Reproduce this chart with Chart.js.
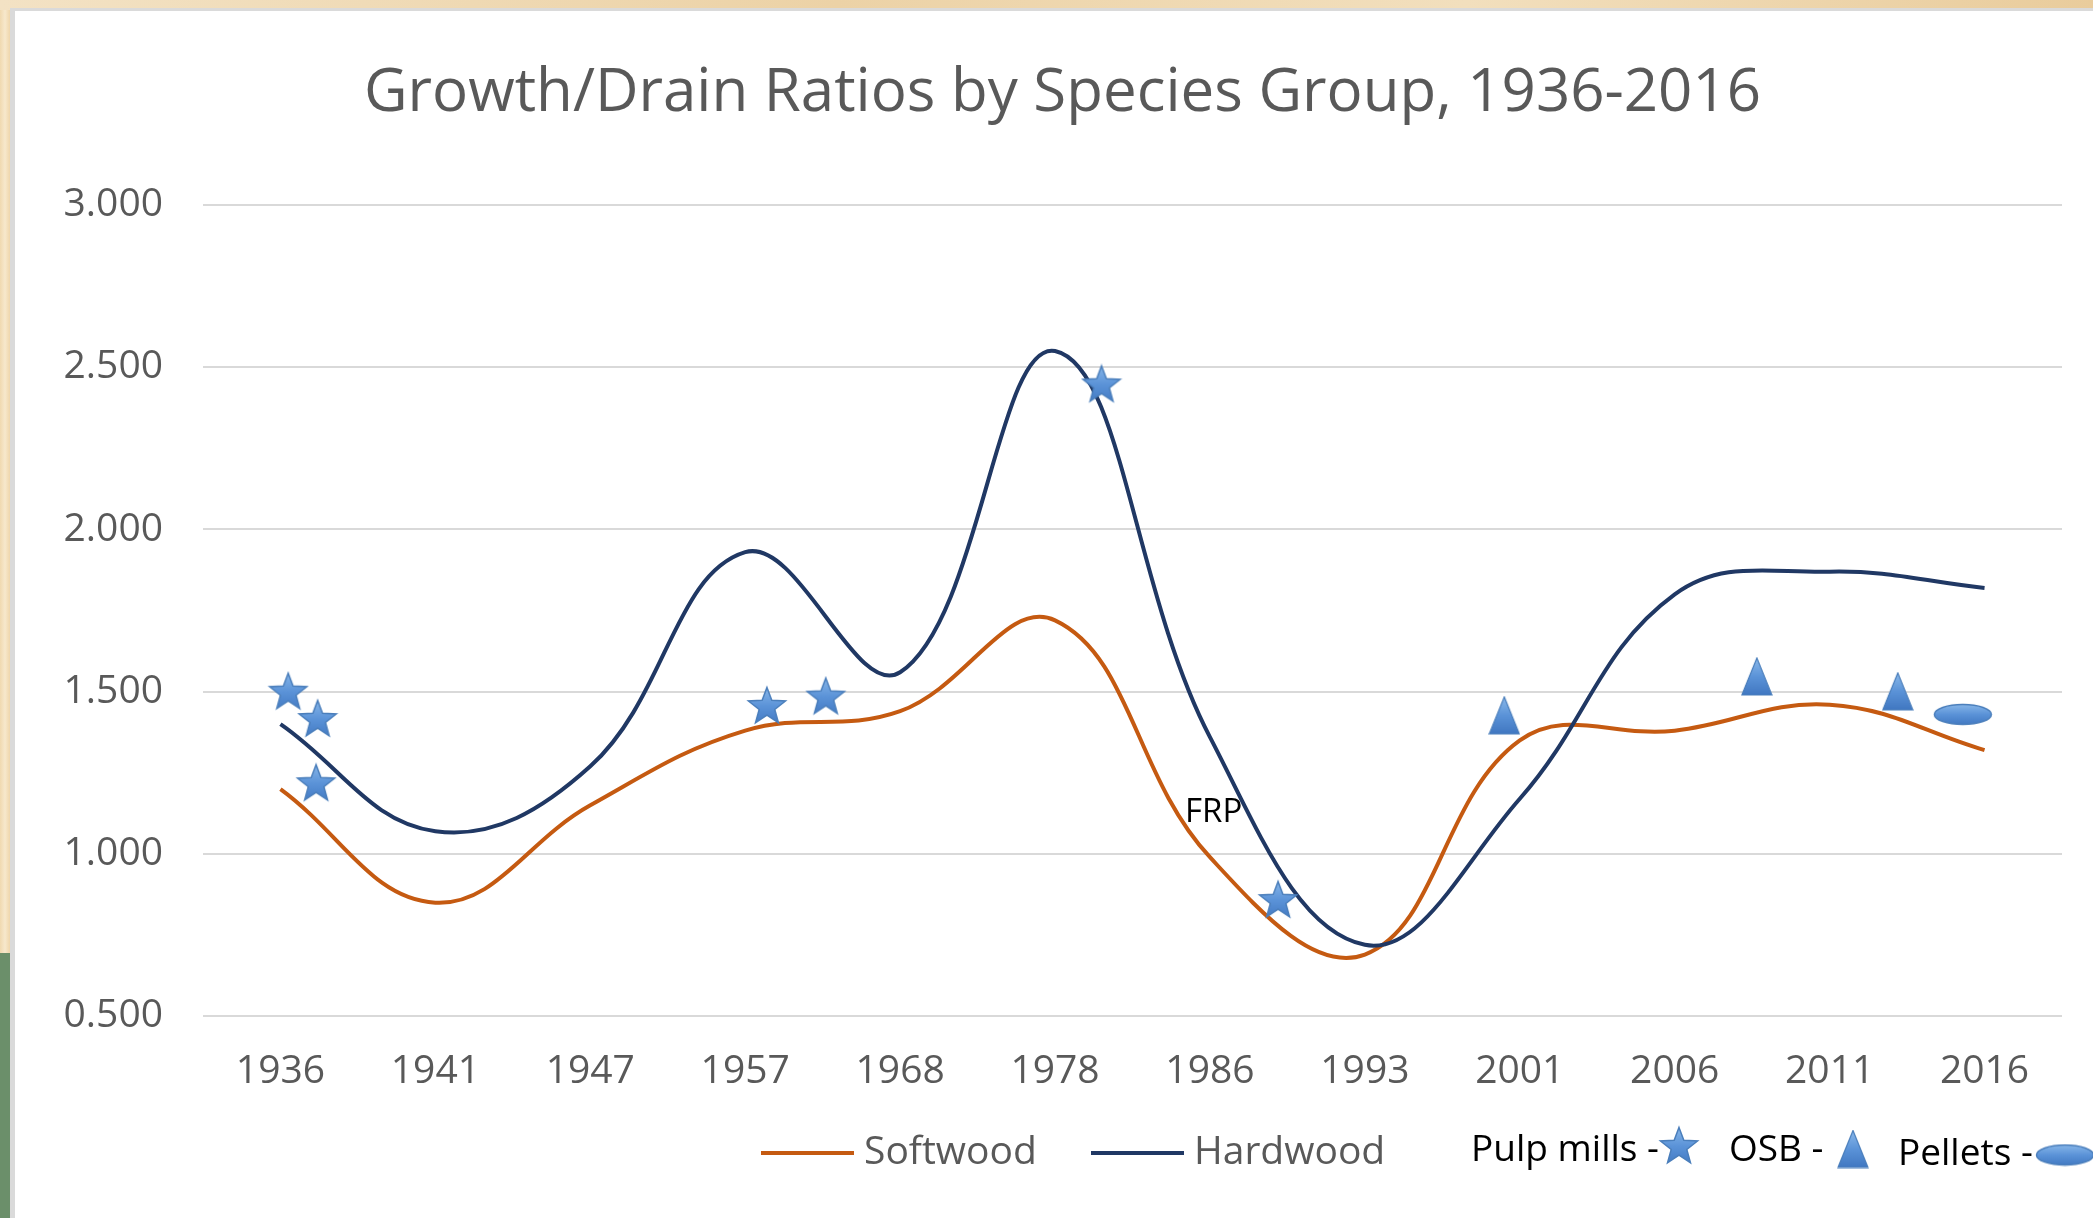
<!DOCTYPE html>
<html>
<head>
<meta charset="utf-8">
<script src="https://cdn.jsdelivr.net/npm/chart.js@4.4.1/dist/chart.umd.min.js"></script>
<style>
  html, body { margin: 0; padding: 0; }
  body {
    width: 2093px; height: 1218px; overflow: hidden; position: relative;
    background: linear-gradient(90deg, #f0d9b0 0px, #f7e8cc 5px, #efd6ab 10px);
  }
  #topstrip { position: absolute; left: 0; top: 0; width: 2093px; height: 10px;
    background: linear-gradient(90deg, #f3e2c4, #ecd2a6 40%, #f2dfbd 70%, #e9cc9c); }
  #green { position: absolute; left: 0; top: 953px; width: 10px; height: 265px; background: #6b8f6a; }
  #panel { position: absolute; left: 10px; top: 8px; right: 0; bottom: 0;
    background: #fff; border-left: 5px solid #dadada; border-top: 3px solid #dadada; }
  #myChart { position: absolute; left: 0; top: 0; }
</style>
</head>
<body>
<div id="topstrip"></div>
<div id="green"></div>
<div id="panel"></div>
<canvas id="myChart" width="2093" height="1218"></canvas>
<script>
// data
const years    = ['1936', '1941', '1947', '1957', '1968', '1978', '1986', '1993', '2001', '2006', '2011', '2016'];
const softwood = [1.20, 0.85, 1.15, 1.38, 1.44, 1.72, 0.99, 0.69, 1.35, 1.38, 1.46, 1.32];
const hardwood = [1.40, 1.07, 1.27, 1.93, 1.56, 2.55, 1.36, 0.72, 1.17, 1.80, 1.87, 1.82];

// marker positions: x is the fractional category index
const pulpMills = [
  { x: 0.05, y: 1.50 }, { x: 0.24, y: 1.416 }, { x: 0.23, y: 1.218 },
  { x: 3.14, y: 1.456 }, { x: 3.52, y: 1.485 }, { x: 5.30, y: 2.447 }, { x: 6.44, y: 0.858 }
];
const osbMills = [{ x: 7.90, y: 1.427 }, { x: 9.53, y: 1.547 }, { x: 10.44, y: 1.501 }];
const pellets  = [{ x: 10.86, y: 1.430 }];

const ORANGE = '#c55a11';
const NAVY   = '#203864';
const GREY   = '#595959';
const FONT   = "'Open Sans', sans-serif";

// --- marker images ---
function blueFill(c, h) {
  const g = c.createLinearGradient(0, 0, 0, h);
  g.addColorStop(0, '#8dbbeb');
  g.addColorStop(0.5, '#5b93d8');
  g.addColorStop(1, '#3f76c0');
  return g;
}

function makeStar(size) {
  const cv = document.createElement('canvas');
  cv.width = size; cv.height = size;
  const c = cv.getContext('2d');
  const cx = size / 2, cy = size / 2 + 1, R = size / 2 - 1.5, r = R * 0.42;
  c.beginPath();
  for (let i = 0; i < 10; i++) {
    const rad = i % 2 === 0 ? R : r;
    const a = -Math.PI / 2 + i * Math.PI / 5;
    const px = cx + rad * Math.cos(a), py = cy + rad * Math.sin(a);
    if (i === 0) c.moveTo(px, py); else c.lineTo(px, py);
  }
  c.closePath();
  c.fillStyle = blueFill(c, size);
  c.fill();
  c.strokeStyle = '#4a7ebb';
  c.lineWidth = 1.5;
  c.stroke();
  return cv;
}

function makeTriangle(w, h) {
  const cv = document.createElement('canvas');
  cv.width = w; cv.height = h;
  const c = cv.getContext('2d');
  c.beginPath();
  c.moveTo(w / 2, 1);
  c.lineTo(w - 1, h - 1);
  c.lineTo(1, h - 1);
  c.closePath();
  c.fillStyle = blueFill(c, h);
  c.fill();
  c.strokeStyle = '#4a7ebb';
  c.lineWidth = 1.2;
  c.stroke();
  return cv;
}

function makeEllipse(w, h) {
  const cv = document.createElement('canvas');
  cv.width = w; cv.height = h;
  const c = cv.getContext('2d');
  c.beginPath();
  c.ellipse(w / 2, h / 2, w / 2 - 1.5, h / 2 - 1.5, 0, 0, Math.PI * 2);
  c.fillStyle = blueFill(c, h);
  c.fill();
  c.strokeStyle = '#4a7ebb';
  c.lineWidth = 1.5;
  c.stroke();
  return cv;
}

const starImg = makeStar(42);
const triImg  = makeTriangle(32, 39);
const ellImg  = makeEllipse(60, 23);

// legend row and FRP note drawn after the chart
const extrasPlugin = {
  id: 'extras',
  afterDraw(chart) {
    const c = chart.ctx;
    c.save();
    c.textBaseline = 'middle';
    c.textAlign = 'left';

    // FRP note
    c.fillStyle = '#000';
    c.font = '33px ' + FONT;
    c.fillText('FRP', 1185, 813);

    // line legend
    const ly = 1153;
    c.lineWidth = 4;
    c.strokeStyle = ORANGE;
    c.beginPath(); c.moveTo(761, ly); c.lineTo(854, ly); c.stroke();
    c.strokeStyle = NAVY;
    c.beginPath(); c.moveTo(1091, ly); c.lineTo(1184, ly); c.stroke();
    c.fillStyle = GREY;
    c.font = '39px ' + FONT;
    c.fillText('Softwood', 864, ly);
    c.fillText('Hardwood', 1194, ly);

    // marker legend
    c.fillStyle = '#000';
    c.font = '37px ' + FONT;
    c.fillText('Pulp mills -', 1471, 1150);
    c.fillText('OSB -', 1729, 1150);
    c.fillText('Pellets -', 1898, 1154);
    c.drawImage(starImg, 1679 - starImg.width / 2, 1146 - starImg.height / 2);
    c.drawImage(triImg, 1853 - triImg.width / 2, 1149 - triImg.height / 2);
    c.drawImage(ellImg, 2065 - ellImg.width / 2, 1155 - ellImg.height / 2);
    c.restore();
  }
};

const ctx = document.getElementById('myChart').getContext('2d');

new Chart(ctx, {
  type: 'line',
  data: {
    labels: years,
    datasets: [
      { label: 'Softwood', data: softwood, borderColor: ORANGE, borderWidth: 4,
        tension: 0.4, pointRadius: 0, fill: false, order: 3 },
      { label: 'Hardwood', data: hardwood, borderColor: NAVY, borderWidth: 4,
        tension: 0.4, pointRadius: 0, fill: false, order: 2 },
      { label: 'Pulp mills', data: pulpMills, xAxisID: 'xm', showLine: false,
        pointStyle: starImg, pointRadius: 12, order: 1 },
      { label: 'OSB', data: osbMills, xAxisID: 'xm', showLine: false,
        pointStyle: triImg, pointRadius: 12, order: 1 },
      { label: 'Pellets', data: pellets, xAxisID: 'xm', showLine: false,
        pointStyle: ellImg, pointRadius: 12, order: 1 }
    ]
  },
  options: {
    responsive: false,
    animation: false,
    devicePixelRatio: 1,
    layout: { padding: { left: 63, right: 31, top: 0, bottom: 91 } },
    plugins: {
      legend: { display: false },
      tooltip: { enabled: false },
      title: {
        display: true,
        text: 'Growth/Drain Ratios by Species Group, 1936-2016',
        color: GREY,
        font: { family: FONT, size: 60, weight: 'normal' },
        padding: { top: 58, bottom: 75 }
      }
    },
    scales: {
      x: {
        type: 'category',
        offset: true,
        grid: { display: false, drawTicks: false },
        border: { display: false },
        ticks: { color: GREY, font: { family: FONT, size: 39 }, padding: 32, maxRotation: 0, autoSkip: false }
      },
      xm: {
        type: 'linear',
        display: false,
        min: -0.5,
        max: 11.5
      },
      y: {
        min: 0.5,
        max: 3.0,
        grid: { color: '#d9d9d9', lineWidth: 2, drawTicks: false },
        border: { display: false },
        afterFit(scale) { scale.width = 140; },
        ticks: {
          stepSize: 0.5,
          padding: 40,
          color: GREY,
          font: { family: FONT, size: 39 },
          callback: v => Number(v).toFixed(3)
        }
      }
    }
  },
  plugins: [extrasPlugin]
});
</script>
</body>
</html>
